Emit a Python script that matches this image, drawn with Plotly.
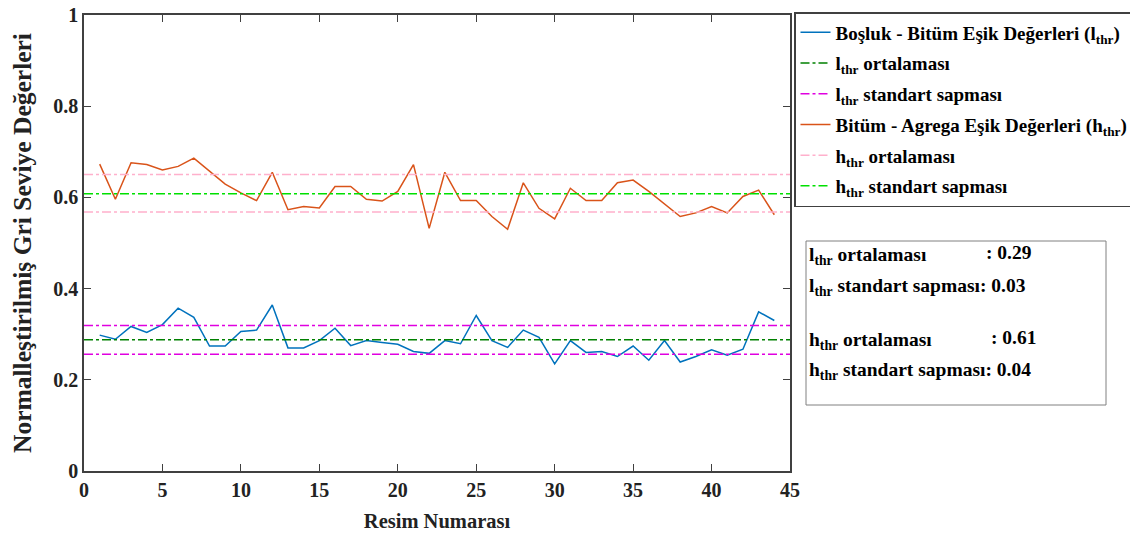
import plotly.graph_objects as go

image_no = list(range(1, 45))
l_thr = [0.298, 0.289, 0.317, 0.304, 0.321, 0.357, 0.337, 0.274, 0.274, 0.306,
         0.309, 0.364, 0.270, 0.270, 0.286, 0.313, 0.275, 0.286, 0.282, 0.278,
         0.262, 0.258, 0.286, 0.279, 0.341, 0.286, 0.271, 0.309, 0.293, 0.235,
         0.286, 0.260, 0.262, 0.251, 0.274, 0.243, 0.286, 0.239, 0.251, 0.266,
         0.254, 0.267, 0.349, 0.330]
h_thr = [0.673, 0.596, 0.676, 0.672, 0.660, 0.668, 0.686, 0.658, 0.629, 0.610,
         0.593, 0.655, 0.573, 0.580, 0.577, 0.624, 0.624, 0.596, 0.592, 0.613,
         0.672, 0.532, 0.655, 0.593, 0.593, 0.558, 0.530, 0.632, 0.576, 0.553,
         0.620, 0.593, 0.593, 0.632, 0.638, 0.613, 0.585, 0.558, 0.566, 0.580,
         0.566, 0.602, 0.616, 0.562]
l_mean = 0.288
l_std_band = [0.319, 0.256]
h_mean = 0.608
h_std_band = [0.650, 0.568]
x_span = [0, 45]
x_ticks = [0, 5, 10, 15, 20, 25, 30, 35, 40, 45]
y_ticks = [0, 0.2, 0.4, 0.6, 0.8, 1]
y_tick_text = ["0", "0.2", "0.4", "0.6", "0.8", "1"]

FONT = "Liberation Serif, Times New Roman, serif"
fig = go.Figure()

def hl(vals, color, name, grp):
    xs, ys = [], []
    for v in vals:
        xs += [x_span[0], x_span[1], None]
        ys += [v, v, None]
    fig.add_trace(go.Scatter(x=xs, y=ys, mode="lines", name=name, legendgroup=grp,
                             line=dict(color=color, width=1.5, dash="dashdot")))

fig.add_trace(go.Scatter(x=image_no, y=l_thr, mode="lines", legendgroup="a",
                         name="<b>Boşluk - Bitüm Eşik Değerleri (l<sub>thr</sub>)</b>",
                         line=dict(color="#0072BD", width=1.5)))
hl([l_mean], "#008000", "<b>l<sub>thr</sub> ortalaması</b>", "b")
hl(l_std_band, "#E000E0", "<b>l<sub>thr</sub> standart sapması</b>", "c")
fig.add_trace(go.Scatter(x=image_no, y=h_thr, mode="lines", legendgroup="d",
                         name="<b>Bitüm - Agrega Eşik Değerleri (h<sub>thr</sub>)</b>",
                         line=dict(color="#D95319", width=1.5)))
# legend labels as in the original figure
hl(h_std_band, "#FFB0CC", "<b>h<sub>thr</sub> ortalaması</b>", "e")
hl([h_mean], "#00E000", "<b>h<sub>thr</sub> standart sapması</b>", "f")

# page offset compensation (browser default body margin)
OX, OY = 8, 8
L, R, T, B = 84 - OX, 348 + OX, 15 - OY, 68 + OY
W, H = 1138, 539
pw, ph = W - L - R, H - T - B

def px(x):
    return (x - OX - L) / pw

def py(y):
    return (H - B - (y - OY)) / ph

tick_font = dict(family=FONT, size=20, color="#222")
axis_common = dict(showline=True, linecolor="#404040", linewidth=1.5, mirror="ticks",
                   ticks="inside", ticklen=7, tickcolor="#404040", showgrid=False,
                   zeroline=False, tickfont=tick_font, ticklabeloverflow="allow",
                   automargin=False)
fig.update_xaxes(range=[0, 45], tickvals=x_ticks,
                 ticktext=["<b>%d</b>" % v for v in x_ticks],
                 title=dict(text="<b>Resim Numarası</b>", standoff=14,
                            font=dict(family=FONT, size=20.5, color="#222")),
                 **axis_common)
fig.update_yaxes(range=[0, 1], tickvals=y_ticks,
                 ticktext=["<b>%s</b>" % s for s in y_tick_text],
                 title=dict(text="<b>Normalleştirilmiş Gri Seviye Değerleri</b>", standoff=17,
                            font=dict(family=FONT, size=25.5, color="#222")),
                 **axis_common)

# stats box
fig.add_shape(type="rect", xref="paper", yref="paper",
              x0=px(806), x1=px(1106), y0=py(405), y1=py(241),
              line=dict(color="#808080", width=1), fillcolor="white")
ann_font = dict(family=FONT, size=19.5, color="black")
rows = [
    (256, "<b>l<sub>thr</sub> ortalaması</b>", "<b>: 0.29</b>", 984),
    (287, "<b>l<sub>thr</sub> standart sapması: 0.03</b>", None, None),
    (341, "<b>h<sub>thr</sub> ortalaması</b>", "<b>: 0.61</b>", 989),
    (371, "<b>h<sub>thr</sub> standart sapması: 0.04</b>", None, None),
]
for yy, label, val, vx in rows:
    fig.add_annotation(xref="paper", yref="paper", x=px(807), y=py(yy),
                       xanchor="left", yanchor="middle", text=label,
                       showarrow=False, font=ann_font)
    if val:
        fig.add_annotation(xref="paper", yref="paper", x=px(vx), y=py(yy - 3),
                           xanchor="left", yanchor="middle", text=val,
                           showarrow=False, font=ann_font)

fig.update_layout(
    width=W, height=H,
    margin=dict(l=L, r=R, t=T, b=B, autoexpand=False),
    paper_bgcolor="white", plot_bgcolor="white",
    font=dict(family=FONT, size=19, color="black"),
    legend=dict(x=px(794), y=py(12), xanchor="left", yanchor="top",
                bordercolor="#404040", borderwidth=1.5, bgcolor="white",
                font=dict(family=FONT, size=19, color="black"),
                itemwidth=30, tracegroupgap=3),
)

fig.write_html("out.html", config={"displayModeBar": False})
